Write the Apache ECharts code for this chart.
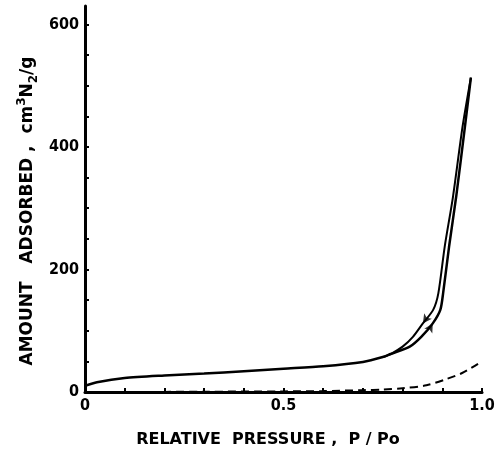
<!DOCTYPE html>
<html>
<head>
<meta charset="utf-8">
<script src="https://cdn.jsdelivr.net/npm/echarts@6/dist/echarts.min.js"></script>
<style>
  html, body { margin: 0; padding: 0; background: #fff; }
  #chart { width: 502px; height: 455px; }
</style>
</head>
<body>
<div id="chart"></div>
<script>
// adsorption branch (lower / right branch of the loop)
const adsorption = [
  [0, 10], [0.03, 16], [0.1, 23], [0.2, 27], [0.3, 30],
  [0.4, 34], [0.5, 38], [0.6, 42], [0.7, 49], [0.75, 57], [0.77, 62],
  [0.818, 74], [0.847, 90], [0.876, 112], [0.895, 134], [0.902, 161],
  [0.917, 237], [0.935, 319], [0.957, 433], [0.972, 513]
];
// desorption branch (upper / left branch)
const desorption = [
  [0.75, 57], [0.77, 62], [0.8, 74], [0.826, 90], [0.851, 112],
  [0.877, 134], [0.89, 161], [0.906, 237], [0.927, 319],
  [0.951, 433], [0.972, 513]
];
// dashed curve
const dashed = [
  [0, 0], [0.1, 0], [0.3, 0.5], [0.5, 1], [0.6, 1.5], [0.7, 3],
  [0.75, 4], [0.8, 6], [0.86, 11], [0.91, 21], [0.95, 31], [0.99, 46]
];
// arrow marks on the loop
const arrowUp = [[0.876, 112]];
const arrowDown = [[0.851, 112]];

const xTicks = [0, 0.1, 0.2, 0.3, 0.4, 0.5, 0.6, 0.7, 0.8, 0.9, 1.0];
const xLabels = [0, 0.5, 1.0];
const yTicks = [0, 50, 100, 150, 200, 250, 300, 350, 400, 450, 500, 550, 600];
const yLabels = [0, 200, 400, 600];

const chart = echarts.init(document.getElementById('chart'));

const labelFont = {
  color: '#000',
  fontFamily: 'DejaVu Sans Condensed',
  fontWeight: 'bold',
  fontSize: 16
};

const nameRich = {
  sup: { fontSize: 12, fontWeight: 'bold', fontFamily: 'DejaVu Sans', verticalAlign: 'top', fill: '#000', lineHeight: 24 },
  sub: { fontSize: 12, fontWeight: 'bold', fontFamily: 'DejaVu Sans', verticalAlign: 'bottom', fill: '#000', lineHeight: 24 }
};

chart.setOption({
  animation: false,
  backgroundColor: '#fff',
  grid: { left: 85, right: 20, top: 6, bottom: 63 },
  xAxis: {
    type: 'value',
    min: 0,
    max: 1,
    axisLine: { lineStyle: { color: '#000', width: 3 } },
    axisTick: { inside: true, length: 4, customValues: xTicks, lineStyle: { color: '#000', width: 2 } },
    axisLabel: Object.assign({
      customValues: xLabels,
      margin: 6,
      formatter: v => v === 0 ? '0' : v.toFixed(1)
    }, labelFont),
    splitLine: { show: false }
  },
  yAxis: {
    type: 'value',
    min: 0,
    max: 630,
    axisLine: { show: true, lineStyle: { color: '#000', width: 3 } },
    axisTick: { show: true, inside: true, length: 4, customValues: yTicks, lineStyle: { color: '#000', width: 2 } },
    axisLabel: Object.assign({ customValues: yLabels, margin: 6 }, labelFont),
    splitLine: { show: false }
  },
  graphic: [
    {
      type: 'text',
      x: 28, y: 211,
      rotation: Math.PI / 2,
      style: {
        text: 'AMOUNT   ADSORBED ,  cm{sup|3}N{sub|2}/g',
        rich: nameRich,
        fill: '#000',
        fontFamily: 'DejaVu Sans',
        fontWeight: 'bold',
        fontSize: 17,
        lineHeight: 24,
        align: 'center',
        verticalAlign: 'middle'
      }
    },
    {
      type: 'text',
      x: 268, y: 440,
      style: {
        text: 'RELATIVE  PRESSURE ,  P / Po',
        fill: '#000',
        fontFamily: 'DejaVu Sans',
        fontWeight: 'bold',
        fontSize: 16,
        align: 'center',
        verticalAlign: 'middle'
      }
    }
  ],
  series: [
    {
      type: 'line',
      data: adsorption,
      smooth: 0.25,
      showSymbol: false,
      lineStyle: { color: '#000', width: 2.5 }
    },
    {
      type: 'line',
      data: desorption,
      smooth: 0.25,
      showSymbol: false,
      lineStyle: { color: '#000', width: 2 }
    },
    {
      type: 'line',
      data: dashed,
      smooth: 0.3,
      showSymbol: false,
      lineStyle: { color: '#000', width: 2, type: [8, 5] }
    },
    {
      type: 'scatter',
      data: arrowUp,
      symbol: 'arrow',
      symbolSize: [7, 9],
      symbolRotate: -30,
      itemStyle: { color: '#000' }
    },
    {
      type: 'scatter',
      data: arrowDown,
      symbol: 'arrow',
      symbolSize: [7, 9],
      symbolRotate: 145,
      itemStyle: { color: '#000' }
    }
  ]
});
</script>
</body>
</html>
